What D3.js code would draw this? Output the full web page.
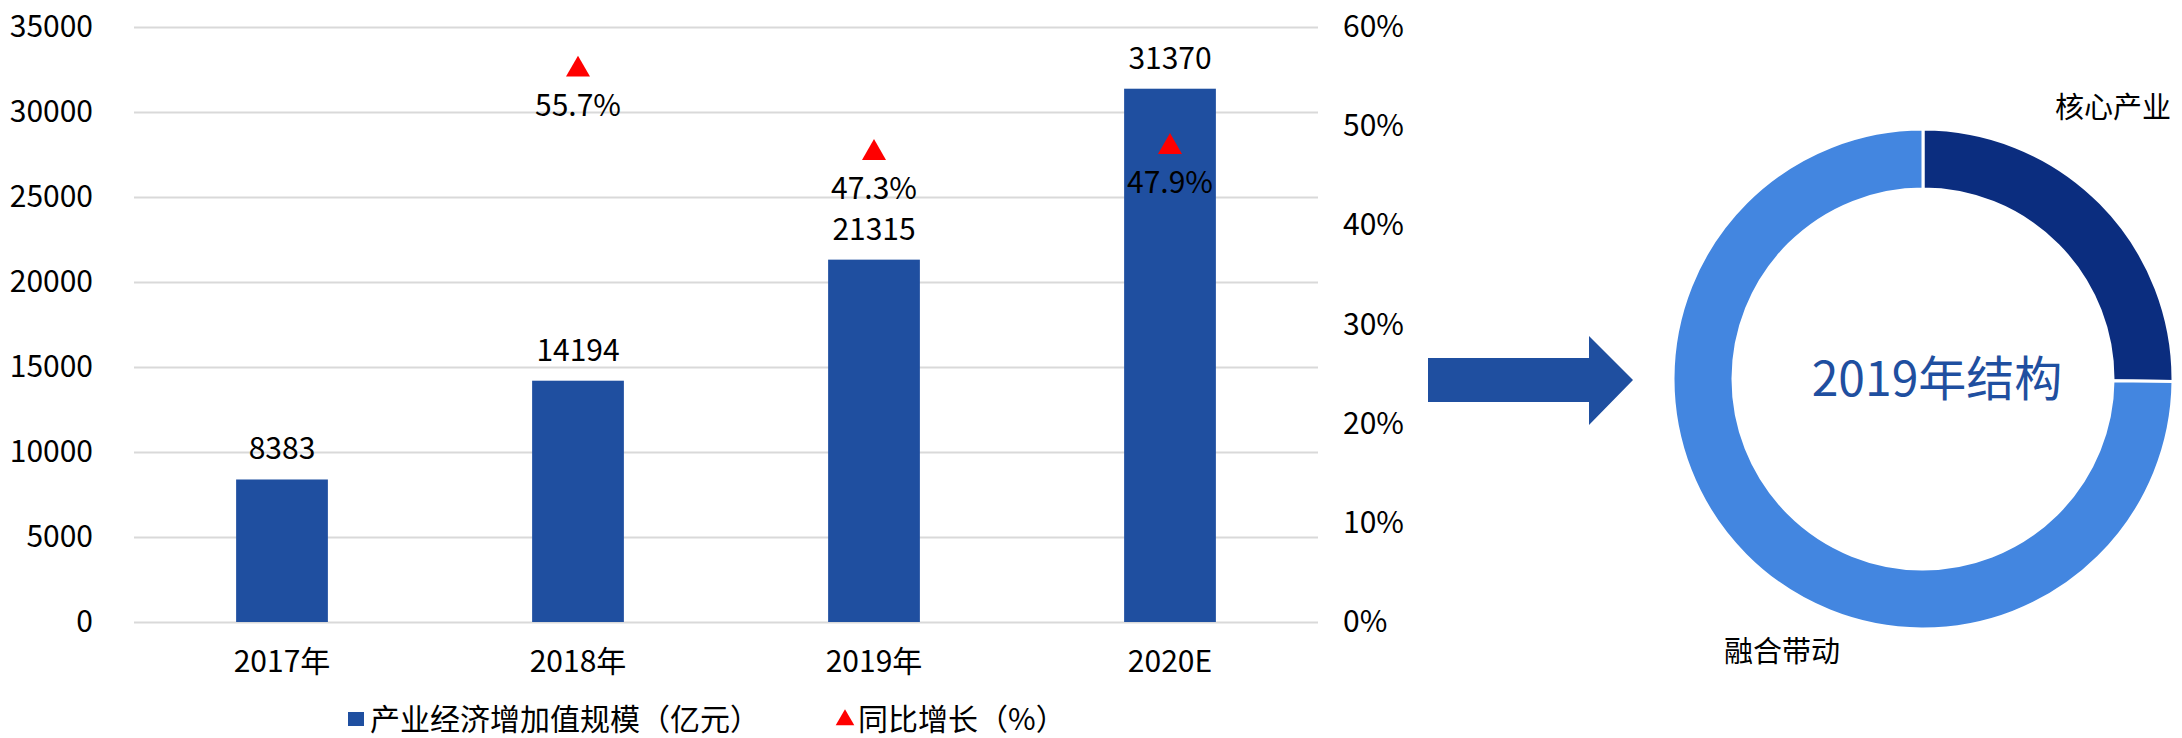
<!DOCTYPE html>
<html>
<head>
<meta charset="utf-8">
<script src="https://cdn.jsdelivr.net/npm/d3@7"></script>
<style>
  body { margin: 0; background: #fff; }
  text { font-family: "Noto Sans CJK SC", "Liberation Sans", sans-serif; fill: #000; }
</style>
</head>
<body>
<svg class="plot" width="2182" height="738"></svg>
<script>
const categories = ["2017年", "2018年", "2019年", "2020E"]
const scaleValues = [8383, 14194, 21315, 31370]
const growthValues = [null, 55.7, 47.3, 47.9]
const leftTicks = [0, 5000, 10000, 15000, 20000, 25000, 30000, 35000]
const rightTicks = [0, 10, 20, 30, 40, 50, 60]
const structNames = ["核心产业", "融合带动"]
const structValues = [5361, 15954]
const legendNames = ["产业经济增加值规模（亿元）", "同比增长（%）"]

const barColor = "#1f4fa0"

function renderChart() {
  const svg = d3.select(".plot")
  const left = 134, right = 1318, top = 27, bottom = 622

  const x = d3.scaleBand()
    .domain(categories)
    .range([left, right])
    .paddingInner(0.69)
    .paddingOuter(0.345)

  const y = d3.scaleLinear().domain([0, 35000]).range([bottom, top])
  const y2 = d3.scaleLinear().domain([0, 60]).range([bottom, top])

  // gridlines
  svg.append("g")
    .attr("transform", `translate(${left},0)`)
    .call(d3.axisLeft(y).tickValues(leftTicks).tickSize(-(right - left)).tickFormat(""))
    .call(g => g.select(".domain").remove())
    .selectAll("line")
    .attr("stroke", "#d9d9d9")
    .attr("stroke-width", 2)

  // left axis
  svg.append("g")
    .attr("transform", `translate(${left},0)`)
    .call(d3.axisLeft(y).tickValues(leftTicks).tickSize(0).tickPadding(41).tickFormat(d => d))
    .call(g => g.select(".domain").remove())
    .selectAll("text")
    .style("font-size", "30px")

  // right axis
  svg.append("g")
    .attr("transform", `translate(${right},0)`)
    .call(d3.axisRight(y2).tickValues(rightTicks).tickSize(0).tickPadding(25).tickFormat(d => d + "%"))
    .call(g => g.select(".domain").remove())
    .selectAll("text")
    .style("font-size", "30px")

  // bottom axis
  svg.append("g")
    .attr("transform", `translate(0,${bottom})`)
    .call(d3.axisBottom(x).tickSize(0).tickPadding(29))
    .call(g => g.select(".domain").remove())
    .selectAll("text")
    .style("font-size", "30px")

  const bars = categories.map((c, i) => ({ cat: c, value: scaleValues[i], growth: growthValues[i] }))

  svg.selectAll(".bar")
    .data(bars)
    .enter().append("rect")
    .attr("class", "bar")
    .attr("x", d => x(d.cat))
    .attr("y", d => y(d.value))
    .attr("width", x.bandwidth())
    .attr("height", d => bottom - y(d.value))
    .attr("fill", barColor)

  svg.selectAll(".bar-label")
    .data(bars)
    .enter().append("text")
    .attr("class", "bar-label")
    .attr("x", d => x(d.cat) + x.bandwidth() / 2)
    .attr("y", d => y(d.value) - 20)
    .attr("text-anchor", "middle")
    .style("font-size", "30px")
    .text(d => d.value)

  const growthPts = bars.filter(d => d.growth != null)
  const tri = d3.symbol().type(d3.symbolTriangle).size(250)

  svg.selectAll(".tri")
    .data(growthPts)
    .enter().append("path")
    .attr("class", "tri")
    .attr("transform", d => `translate(${x(d.cat) + x.bandwidth() / 2},${y2(d.growth)})`)
    .attr("d", tri)
    .attr("fill", "#ff0000")

  svg.selectAll(".growth-label")
    .data(growthPts)
    .enter().append("text")
    .attr("class", "growth-label")
    .attr("x", d => x(d.cat) + x.bandwidth() / 2)
    .attr("y", d => y2(d.growth) + 46)
    .attr("text-anchor", "middle")
    .style("font-size", "30px")
    .text(d => d.growth.toFixed(1) + "%")

  // legend
  const lg = svg.append("g").attr("transform", "translate(348,730)")
  lg.append("rect").attr("x", 0).attr("y", -18).attr("width", 16).attr("height", 14).attr("fill", barColor)
  lg.append("text").attr("x", 22).attr("y", 0).style("font-size", "30px").text(legendNames[0])
  lg.append("path")
    .attr("transform", "translate(497,-10)")
    .attr("d", d3.symbol().type(d3.symbolTriangle).size(150))
    .attr("fill", "#ff0000")
  lg.append("text").attr("x", 510).attr("y", 0).style("font-size", "30px").text(legendNames[1])

  // arrow
  const ax0 = 1428, ax1 = 1589, ax2 = 1633, ay = 380
  const arrow = d3.path()
  arrow.moveTo(ax0, ay - 22)
  arrow.lineTo(ax1, ay - 22)
  arrow.lineTo(ax1, ay - 44)
  arrow.lineTo(ax2, ay)
  arrow.lineTo(ax1, ay + 45)
  arrow.lineTo(ax1, ay + 22)
  arrow.lineTo(ax0, ay + 22)
  arrow.closePath()
  svg.append("path").attr("d", arrow.toString()).attr("fill", barColor)

  // donut
  const cx = 1923, cy = 379
  const pie = d3.pie().sort(null)
  const arc = d3.arc().innerRadius(190).outerRadius(250)
  const donutColors = ["#0b2d7f", "#4386e0"]

  const dg = svg.append("g").attr("transform", `translate(${cx},${cy})`)
  dg.selectAll("path")
    .data(pie(structValues))
    .enter().append("path")
    .attr("d", arc)
    .attr("fill", (d, i) => donutColors[i])
    .attr("stroke", "#fff")
    .attr("stroke-width", 3)

  dg.append("text")
    .attr("x", 14)
    .attr("y", 17)
    .attr("text-anchor", "middle")
    .style("font-size", "48px")
    .style("fill", "#1f4fa0")
    .text("2019年结构")

  dg.append("text")
    .attr("x", 132)
    .attr("y", -261)
    .style("font-size", "29px")
    .text(structNames[0])

  dg.append("text")
    .attr("x", -199)
    .attr("y", 283)
    .style("font-size", "29px")
    .text(structNames[1])
}

window.addEventListener("load", renderChart)
</script>
</body>
</html>
